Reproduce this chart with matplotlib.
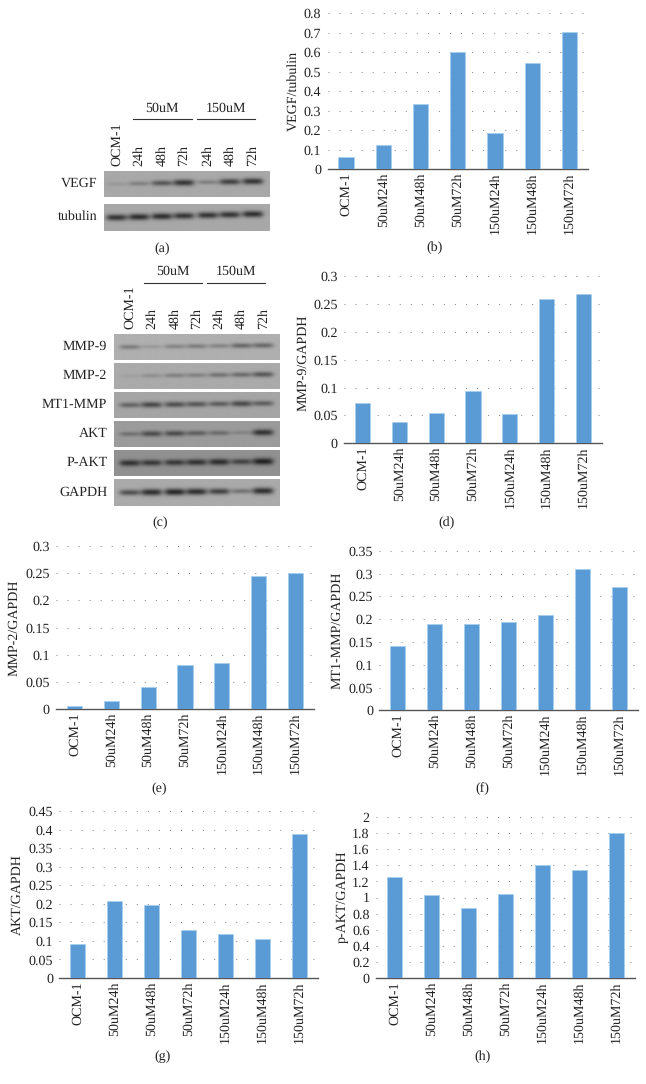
import numpy as np
import matplotlib
matplotlib.use('Agg')
import matplotlib.pyplot as plt

plt.rcParams['font.family'] = ['Liberation Serif', 'DejaVu Serif']
plt.rcParams['text.hinting'] = 'none'
plt.rcParams['text.hinting_factor'] = 1

W, H = 646, 1084

categories = ['OCM-1', '50uM24h', '50uM48h', '50uM72h', '150uM24h', '150uM48h', '150uM72h']
lanes = ['OCM-1', '24h', '48h', '72h', '24h', '48h', '72h']

# bar values
vegf = [0.063, 0.125, 0.335, 0.6, 0.187, 0.547, 0.705]
mmp9 = [0.072, 0.039, 0.054, 0.093, 0.052, 0.258, 0.268]
mmp2 = [0.006, 0.015, 0.041, 0.081, 0.085, 0.245, 0.25]
mt1 = [0.14, 0.19, 0.19, 0.194, 0.209, 0.31, 0.271]
akt = [0.092, 0.207, 0.197, 0.129, 0.12, 0.104, 0.388]
pakt = [1.25, 1.03, 0.87, 1.04, 1.4, 1.34, 1.8]

ticks_b = ['0', '0.1', '0.2', '0.3', '0.4', '0.5', '0.6', '0.7', '0.8']
ticks_d = ['0', '0.05', '0.1', '0.15', '0.2', '0.25', '0.3']
ticks_f = ['0', '0.05', '0.1', '0.15', '0.2', '0.25', '0.3', '0.35']
ticks_g = ['0', '0.05', '0.1', '0.15', '0.2', '0.25', '0.3', '0.35', '0.4', '0.45']
ticks_h = ['0', '0.2', '0.4', '0.6', '0.8', '1', '1.2', '1.4', '1.6', '1.8', '2']

# band darkness per lane, estimated by eye
band_vegf = [0.12, 0.3, 0.6, 0.85, 0.3, 0.75, 0.85]
band_tubulin = [0.85, 0.9, 0.9, 0.85, 0.85, 0.85, 0.9]
band_mmp9 = [0.35, 0.15, 0.3, 0.35, 0.3, 0.5, 0.5]
band_mmp2 = [0.08, 0.2, 0.3, 0.3, 0.4, 0.45, 0.6]
band_mt1 = [0.5, 0.7, 0.65, 0.6, 0.55, 0.7, 0.55]
band_akt = [0.35, 0.65, 0.65, 0.5, 0.4, 0.2, 0.85]
band_pakt = [0.85, 0.8, 0.8, 0.85, 0.9, 0.7, 1.0]
band_gapdh = [0.65, 0.9, 0.95, 0.9, 0.75, 0.4, 0.9]

fig = plt.figure(figsize=(W / 100, H / 100), dpi=100, facecolor='white')

# overlay in pixel coords for the labels and the short lines
ov = fig.add_axes([0, 0, 1, 1], zorder=5)
ov.set_xlim(0, W)
ov.set_ylim(H, 0)
ov.axis('off')


def px_axes(x0, x1, ytop, y0):
    return fig.add_axes([x0 / W, 1 - y0 / H, (x1 - x0) / W, (y0 - ytop) / H])


def bar_panel(values, ticks, box, ylabel, label_pos, sub, sub_pos):
    ax = px_axes(*box)
    x = np.arange(len(values))
    tick_vals = [float(t) for t in ticks]
    ax.bar(x, values, width=0.41, color='#5b9bd5', edgecolor='#a8cfee', linewidth=0.6, zorder=3)
    ax.set_xlim(-0.5, len(values) - 0.5)
    ax.set_ylim(0, tick_vals[-1])
    for v in tick_vals[1:]:
        ax.axhline(v, color='#8a8a8a', lw=0.75, ls=(0, (1, 9.6)), zorder=1, clip_on=False)
    ax.set_yticks(tick_vals)
    ax.set_yticklabels(ticks, fontsize=10, color='#222222')
    ax.set_xticks(x)
    ax.set_xticklabels(categories, rotation=90, fontsize=10, color='#222222')
    ax.tick_params(axis='both', length=0)
    ax.tick_params(axis='y', pad=4.5)
    ax.tick_params(axis='x', pad=2.5)
    for s in ['top', 'right', 'left']:
        ax.spines[s].set_visible(False)
    ax.spines['bottom'].set_color('#555555')
    ax.spines['bottom'].set_linewidth(1.0)
    ax.patch.set_alpha(0)
    ov.text(label_pos[0], label_pos[1], ylabel, rotation=90, ha='center', va='center',
            fontsize=9.8, color='#222222')
    ov.text(sub_pos[0], sub_pos[1], sub, ha='center', va='center', fontsize=10, color='#222222')


def blot(strengths, box, lane_x, bg, sharp=2.9, tilt=0.0):
    x0, x1, y0, y1 = box
    ax = px_axes(x0, x1, y0, y1)
    xs = np.linspace(x0, x1, int((x1 - x0) * 2))
    ys = np.linspace(0, y1 - y0, int((y1 - y0) * 2))
    xx, yy = np.meshgrid(xs, ys)
    img = np.full(xx.shape, bg, dtype=float)
    cy = (y1 - y0) / 2
    for s, lx in zip(strengths, lane_x):
        yc = cy - tilt * (lx - lane_x[0])
        blob = np.exp(-((xx - lx) / 10.5) ** 4 - ((yy - yc) / (sharp * (0.6 + 0.6 * s))) ** 2)
        img -= s * (bg - 35) * blob
    ax.imshow(img, cmap='gray', vmin=0, vmax=255, aspect='auto', interpolation='bilinear')
    ax.axis('off')


def blot_header(lane_x, label_bottom, line_y, lines, text_y, text_x):
    for name, lx in zip(lanes, lane_x):
        ov.text(lx, label_bottom, name, rotation=90, ha='center', va='bottom', fontsize=10, color='#222222')
    for (a, b), tx, name in zip(lines, text_x, ['50uM', '150uM']):
        ov.plot([a, b], [line_y, line_y], color='#333333', lw=0.8)
        ov.text(tx, text_y, name, ha='center', va='center', fontsize=10, color='#222222')


# panel a
lanes_a = [116.7, 139, 162, 184, 208, 230, 253]
blot(band_vegf, (104.3, 270, 170.7, 196.7), lanes_a, 168, tilt=0.02)
blot(band_tubulin, (104.3, 270, 204.3, 231), lanes_a, 168, tilt=0.025)
blot_header(lanes_a, 166, 119.3, [(133.3, 191.7), (197, 254.7)], 108, [162, 226])
ov.text(97.7, 183, 'VEGF', ha='right', va='center', fontsize=10, color='#222222')
ov.text(97.7, 216.5, 'tubulin', ha='right', va='center', fontsize=10, color='#222222')
ov.text(161.7, 249, '(a)', ha='center', va='center', fontsize=10, color='#222222')

# panel c
lanes_c = [130, 151.7, 175, 196.7, 219.3, 241.7, 263.3]
rows_c = [('MMP-9', band_mmp9, 334, 360, 175), ('MMP-2', band_mmp2, 363.3, 389.3, 170),
          ('MT1-MMP', band_mt1, 392.3, 418.3, 165), ('AKT', band_akt, 421.3, 447.3, 155),
          ('P-AKT', band_pakt, 450.3, 476.3, 145), ('GAPDH', band_gapdh, 479.3, 505.7, 170)]
for name, vals, y0, y1, bg in rows_c:
    blot(vals, (114.3, 280, y0, y1), lanes_c, bg, tilt=0.012)
    ov.text(107.3, (y0 + y1) / 2 - 0.5, name, ha='right', va='center', fontsize=10, color='#222222')
blot_header(lanes_c, 329, 282.7, [(144, 201.7), (207.3, 265)], 271.7, [172.7, 236])
ov.text(160, 523, '(c)', ha='center', va='center', fontsize=10, color='#222222')

# bar panels
bar_panel(vegf, ticks_b, (327.5, 588, 13.3, 169.3), 'VEGF/tubulin', (293, 91), '(b)', (435, 248))
bar_panel(mmp9, ticks_d, (344, 602, 276, 443.3), 'MMP-9/GAPDH', (303, 363), '(d)', (446.7, 523))
bar_panel(mmp2, ticks_d, (56, 314, 546, 709.3), 'MMP-2/GAPDH', (14, 628), '(e)', (159, 789))
bar_panel(mt1, ticks_f, (379.3, 638, 550.7, 710.3), 'MT1-MMP/GAPDH', (337.5, 630), '(f)', (482.7, 789))
bar_panel(akt, ticks_g, (59.3, 317.7, 811.3, 978), 'AKT/GAPDH', (17.5, 895), '(g)', (162.7, 1057))
bar_panel(pakt, ticks_h, (376, 635, 817.3, 977.7), 'p-AKT/GAPDH', (342, 897), '(h)', (482.7, 1057))

fig.savefig('out.png', dpi=100)
